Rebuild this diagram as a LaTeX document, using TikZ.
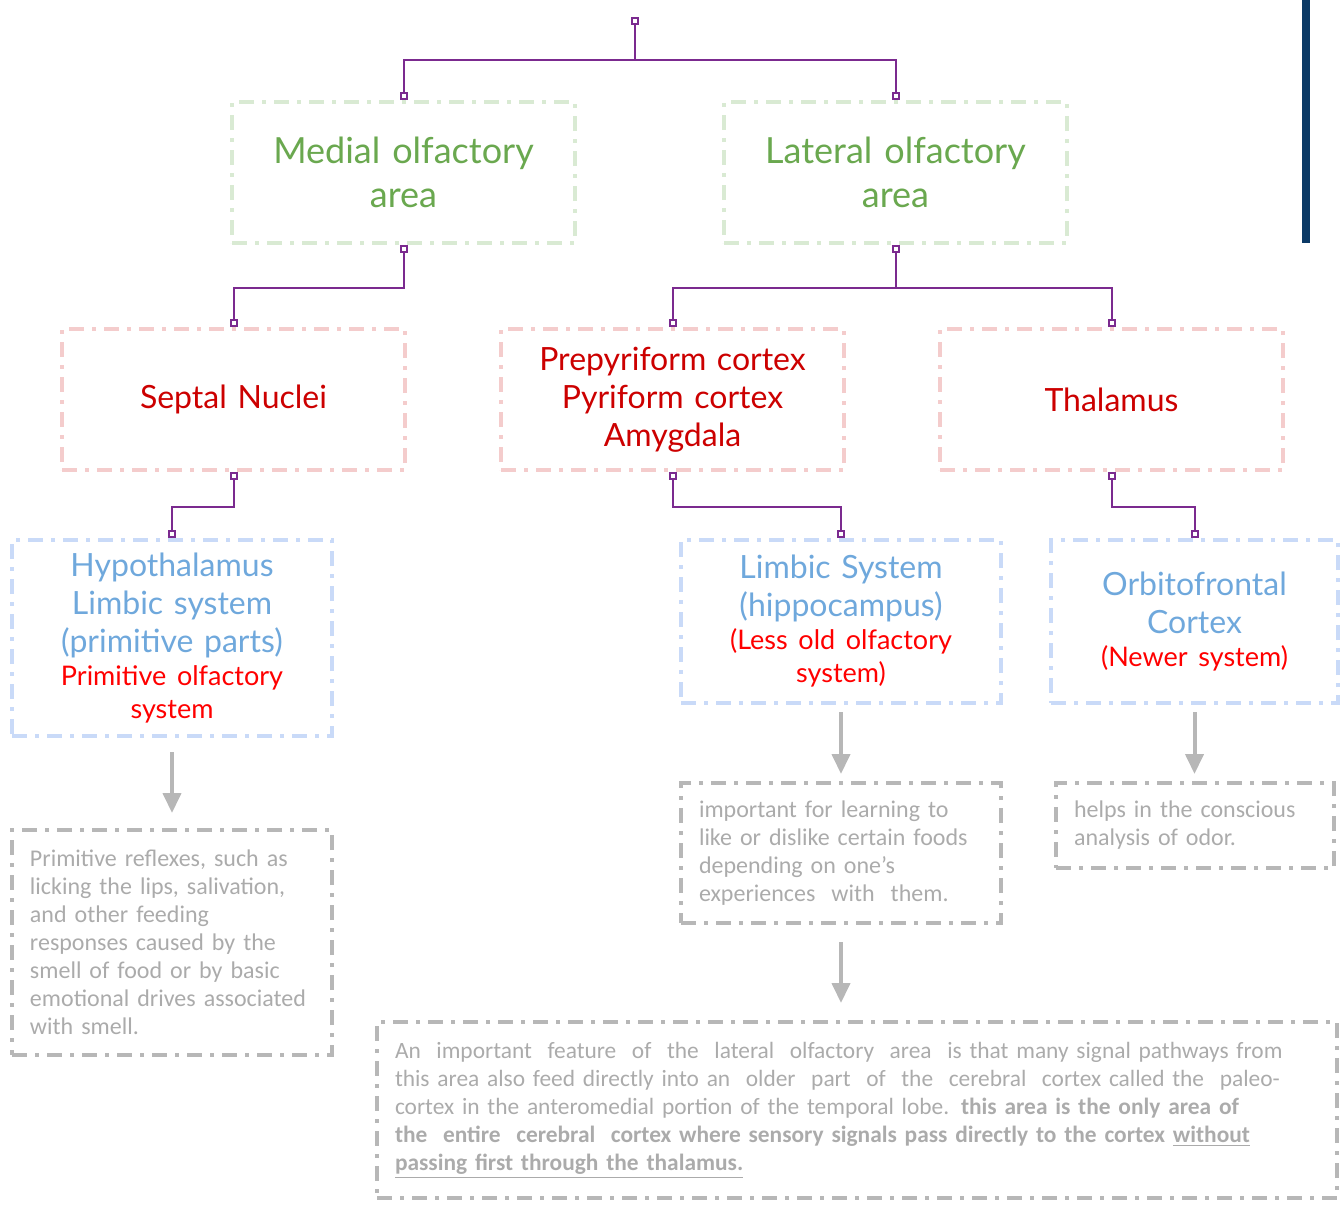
\documentclass[tikz,border=0pt]{standalone}
\usepackage{fontspec}
\setmainfont{Lato}
\newfontfamily\notefont{Carlito}
\usepackage{xcolor}
\usetikzlibrary{arrows.meta, positioning}
\definecolor{linkc}{HTML}{7B2A8F}
\definecolor{areagreen}{HTML}{6AA84F}
\definecolor{areaframe}{HTML}{D9EAD3}
\definecolor{partred}{HTML}{CC0000}
\definecolor{partframe}{HTML}{F4CCCC}
\definecolor{sysblue}{HTML}{6FA8DC}
\definecolor{sysframe}{HTML}{C9DAF8}
\definecolor{sysred}{HTML}{FF0000}
\definecolor{noteframe}{HTML}{B7B7B7}
\definecolor{notetext}{HTML}{ABABAB}
\definecolor{barblue}{HTML}{0B3A66}
\newcommand\olderpart{\color{sysred}\fontsize{13.5}{16.5}\selectfont}

\tikzset{
  frame/.style={line width=2pt, dash pattern=on 7.5pt off 4pt on 2pt off 4pt, inner sep=0pt, align=center},
  areabox/.style={frame, draw=areaframe, text=areagreen, text width=165pt,
    minimum width=171.5pt, minimum height=70.5pt, font=\fontsize{18}{22}\selectfont},
  partbox/.style={frame, draw=partframe, text=partred, text width=165pt,
    minimum width=171.5pt, minimum height=70.5pt, font=\fontsize{16}{19}\selectfont},
  sysbox/.style={frame, draw=sysframe, text=sysblue, minimum height=81.5pt,
    font=\fontsize{16}{19}\selectfont},
  notebox/.style={frame, draw=noteframe, text=notetext, align=left, inner xsep=9pt,
    font=\notefont\fontsize{12}{14}\selectfont},
  link/.style={draw=linkc, line width=1pt, {Square[open,length=4pt,width=4pt]}-{Square[open,length=4pt,width=4pt]}},
  flow/.style={draw=noteframe, line width=2pt, -{Triangle[length=10pt,width=9pt]}}
}

\begin{document}
\begin{tikzpicture}[x=0.5pt, y=-0.5pt]
  \useasboundingbox (0,0) rectangle (1340,1207);
  \fill[barblue] (1302,0) rectangle (1310,243);

  \coordinate (root) at (635,17);
  \node[areabox] (medial) at (403.5,172.5) {Medial olfactory\\area};
  \node[areabox] (lateral) at (895.5,172.5) {Lateral olfactory\\area};

  \node[partbox] (septal) at (233.5,399.5) {Septal Nuclei};
  \node[partbox] (pyri) at (672.5,399.5) {Prepyriform cortex\\Pyriform cortex\\Amygdala};
  \node[partbox] (thal) at (1111.5,399.5) {Thalamus};

  \node[sysbox, text width=155pt, minimum width=160pt, minimum height=98pt] (hypo) at (172,638)
    {Hypothalamus\\Limbic system\\(primitive parts)\\{\olderpart Primitive olfactory\\system\par}};
  \node[sysbox, text width=155pt, minimum width=160pt] (limbic) at (841,621.5)
    {Limbic System\\(hippocampus)\\{\olderpart (Less old olfactory\\system)\par}};
  \node[sysbox, text width=138pt, minimum width=143.5pt] (orbito) at (1194.5,621.5)
    {Orbitofrontal\\Cortex\\{\olderpart (Newer system)\par}};

  \node[notebox, text width=142pt, minimum height=112.5pt] (reflex) at (172,942.5)
    {Primitive reflexes, such as\\licking the lips, salivation,\\and other feeding\\responses caused by the\\smell of food or by basic\\emotional drives associated\\with smell.};
  \node[notebox, text width=142pt, minimum height=70pt] (learn) at (841,853)
    {important for learning to\\like or dislike certain foods\\depending on one’s\\experiences\ \ with\ \ them.};
  \node[notebox, text width=121pt, minimum height=42.5pt] (odor) at (1195,825.5)
    {helps in the conscious\\analysis of odor.};
  \node[notebox, text width=462pt, minimum height=88pt, font=\notefont\fontsize{11.7}{14}\selectfont] (paleo) at (857,1110)
    {An\ \ important\ \ feature\ \ of\ \ the\ \ lateral\ \ olfactory\ \ area\ \ is that many signal pathways from\\
     this area also feed directly into an\ \ older\ \ part\ \ of\ \ the\ \ cerebral\ \ cortex called the\ \ paleo-\\
     cortex in the anteromedial portion of the temporal lobe. \textbf{this area is the only area of}\\
     \textbf{the\ \ entire\ \ cerebral\ \ cortex where sensory signals pass directly to the cortex \underline{without}}\\
     \textbf{\underline{passing first through the thalamus.}}};

  \draw[link] (root) -- ++(0,43) -| (medial.north);
  \draw[link] (root) -- ++(0,43) -| (lateral.north);
  \draw[link] (medial.south) -- ++(0,43) -| (septal.north);
  \draw[link] (lateral.south) -- ++(0,43) -| (pyri.north);
  \draw[link] (lateral.south) -- ++(0,43) -| (thal.north);
  \draw[link] (septal.south) -- ++(0,35) -| (hypo.north);
  \draw[link] (pyri.south) -- ++(0,35) -| (limbic.north);
  \draw[link] (thal.south) -- ++(0,35) -| (orbito.north);

  \draw[flow, shorten <=7pt, shorten >=7.5pt] (hypo) -- (reflex);
  \draw[flow, shorten <=3.5pt, shorten >=3.5pt] (limbic) -- (learn);
  \draw[flow, shorten <=3.5pt, shorten >=3.5pt] (orbito.south) -- (orbito.south |- odor.north);
  \draw[flow, shorten <=8.5pt, shorten >=8.5pt] (learn.south) -- (learn.south |- paleo.north);
\end{tikzpicture}
\end{document}
